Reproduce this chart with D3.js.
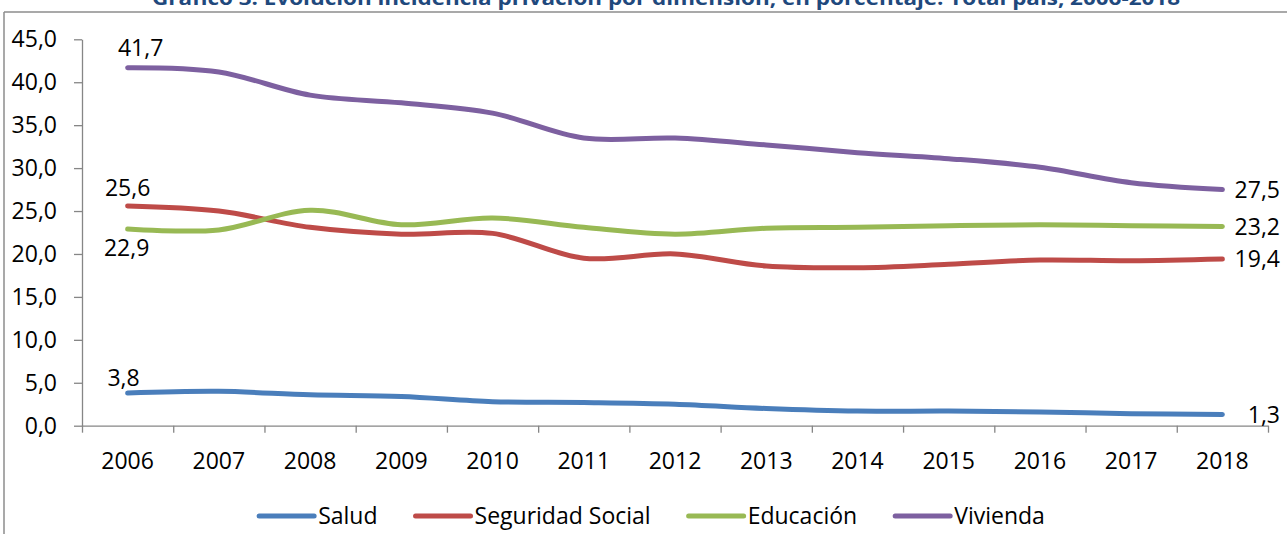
<!DOCTYPE html>
<html>
<head>
<meta charset="utf-8">
<script src="https://cdn.jsdelivr.net/npm/d3@7"></script>
<style>
  html, body { margin: 0; padding: 0; background: #fff; }
  svg { display: block; font-family: "Open Sans", "Noto Sans", sans-serif; }
</style>
</head>
<body>
<svg id="chart" width="1287" height="534"></svg>
<script>
// ---- data ----
const years = ["2006","2007","2008","2009","2010","2011","2012","2013","2014","2015","2016","2017","2018"];
const salud     = [3.8, 4.0, 3.6, 3.4, 2.8, 2.7, 2.5, 2.0, 1.7, 1.7, 1.6, 1.4, 1.3];
const seguridad = [25.6, 25.0, 23.1, 22.3, 22.4, 19.5, 20.0, 18.6, 18.4, 18.8, 19.3, 19.2, 19.4];
const educacion = [22.9, 22.8, 25.1, 23.4, 24.2, 23.1, 22.3, 23.0, 23.1, 23.3, 23.4, 23.3, 23.2];
const vivienda  = [41.7, 41.2, 38.5, 37.6, 36.4, 33.5, 33.5, 32.7, 31.8, 31.1, 30.1, 28.3, 27.5];
const seriesNames = ["Salud", "Seguridad Social", "Educación", "Vivienda"];
const yTicks = [0, 5, 10, 15, 20, 25, 30, 35, 40, 45];
const titleText = "Gráfico 3: Evolución incidencia privación por dimensión, en porcentaje. Total país, 2006-2018";

// ---- styles ----
const colors = ["#4A7EBB", "#BE4B48", "#98B954", "#7D60A0"];
const axisColor = "#868686";
const fontSize = 23;
// label offsets for first-point labels (dx, dy baseline relative to point)
const firstLabelOffsets = [[-4, -7], [0, -10], [-1, 27], [13, -12]];

const series = [salud, seguridad, educacion, vivienda].map((vals, i) => ({
  name: seriesNames[i], color: colors[i],
  values: vals.map((v, j) => ({ year: years[j], value: v }))
}));

const svg = d3.select("#chart");
const fmt = d3.formatLocale({ decimal: ",", thousands: ".", grouping: [3], currency: ["", ""] }).format(".1f");

const plot = { left: 82, right: 1268, top: 39.3, bottom: 425.7 };

const x = d3.scaleBand().domain(years).range([plot.left, plot.right]).paddingInner(0).paddingOuter(0);
const xb = d3.scaleLinear().domain([0, years.length]).range([plot.left, plot.right]);
const y = d3.scaleLinear().domain([0, 45]).range([plot.bottom, plot.top]);
const cx = d => x(d) + x.bandwidth() / 2;

// frame
svg.append("line").attr("x1", 4).attr("x2", 4).attr("y1", 12).attr("y2", 534)
  .attr("stroke", "#8c8c8c").attr("stroke-width", 1.5);
svg.append("line").attr("x1", 4).attr("x2", 1287).attr("y1", 12).attr("y2", 12)
  .attr("stroke", "#8c8c8c").attr("stroke-width", 1.5);

// title (partly clipped at top)
svg.append("text")
  .attr("x", 666).attr("y", 5)
  .attr("text-anchor", "middle")
  .attr("font-size", 20).attr("font-weight", "bold")
  .attr("fill", "#1F497D")
  .attr("textLength", 1028).attr("lengthAdjust", "spacingAndGlyphs")
  .text(titleText);

// y axis
const yAxis = svg.append("g").attr("transform", `translate(${plot.left},0)`)
  .call(d3.axisLeft(y).tickValues(yTicks).tickFormat(fmt).tickSize(8).tickSizeOuter(0).tickPadding(17));
yAxis.select(".domain").attr("stroke", axisColor).attr("stroke-width", 1.3);
yAxis.selectAll(".tick line").attr("stroke", axisColor).attr("stroke-width", 1.3);
yAxis.selectAll(".tick text").attr("font-size", fontSize).attr("fill", "#000")
  .attr("font-family", "'Open Sans', sans-serif");

// x axis: boundary ticks
const xTickAxis = svg.append("g").attr("transform", `translate(0,${plot.bottom})`)
  .call(d3.axisBottom(xb).tickValues(d3.range(0, years.length + 1)).tickFormat("").tickSize(7).tickSizeOuter(0));
xTickAxis.select(".domain").attr("stroke", axisColor).attr("stroke-width", 1.3);
xTickAxis.selectAll(".tick line").attr("stroke", axisColor).attr("stroke-width", 1.3);

// x axis labels
const xLab = svg.append("g").attr("transform", `translate(0,${plot.bottom})`)
  .call(d3.axisBottom(x).tickSize(0).tickPadding(27));
xLab.select(".domain").remove();
xLab.selectAll(".tick text").attr("font-size", fontSize).attr("fill", "#000")
  .attr("font-family", "'Open Sans', sans-serif");

// lines
const line = d3.line().x(d => cx(d.year)).y(d => y(d.value)).curve(d3.curveCatmullRom.alpha(0.5));
svg.append("g").selectAll("path").data(series).join("path")
  .attr("d", d => line(d.values))
  .attr("fill", "none").attr("stroke", d => d.color)
  .attr("stroke-width", 5).attr("stroke-linecap", "round").attr("stroke-linejoin", "round");

// data labels: first point
const lbl = svg.append("g").attr("font-size", fontSize).attr("fill", "#000");
series.forEach((s, i) => {
  const p = s.values[0];
  lbl.append("text")
    .attr("x", cx(p.year) + firstLabelOffsets[i][0])
    .attr("y", y(p.value) + firstLabelOffsets[i][1])
    .attr("text-anchor", "middle")
    .text(fmt(p.value));
  const q = s.values[s.values.length - 1];
  lbl.append("text")
    .attr("x", 1280)
    .attr("y", y(q.value))
    .attr("dy", "0.36em")
    .attr("text-anchor", "end")
    .text(fmt(q.value));
});

// legend
const legend = svg.append("g");
const items = legend.selectAll("g").data(series).join("g");
items.append("line").attr("x1", 0).attr("x2", 55).attr("y1", 0).attr("y2", 0)
  .attr("stroke", d => d.color).attr("stroke-width", 5).attr("stroke-linecap", "round");
items.append("text").attr("x", 59).attr("y", 0).attr("dy", "0.36em")
  .attr("font-size", fontSize).attr("fill", "#000").text(d => d.name);
let off = 0;
const gap = 38;
const offsets = [];
items.each(function () {
  offsets.push(off);
  off += this.getBBox().width + gap;
});
const total = off - gap;
const startX = 652 - total / 2;
items.attr("transform", (d, i) => `translate(${startX + offsets[i]},516)`);
</script>
</body>
</html>
